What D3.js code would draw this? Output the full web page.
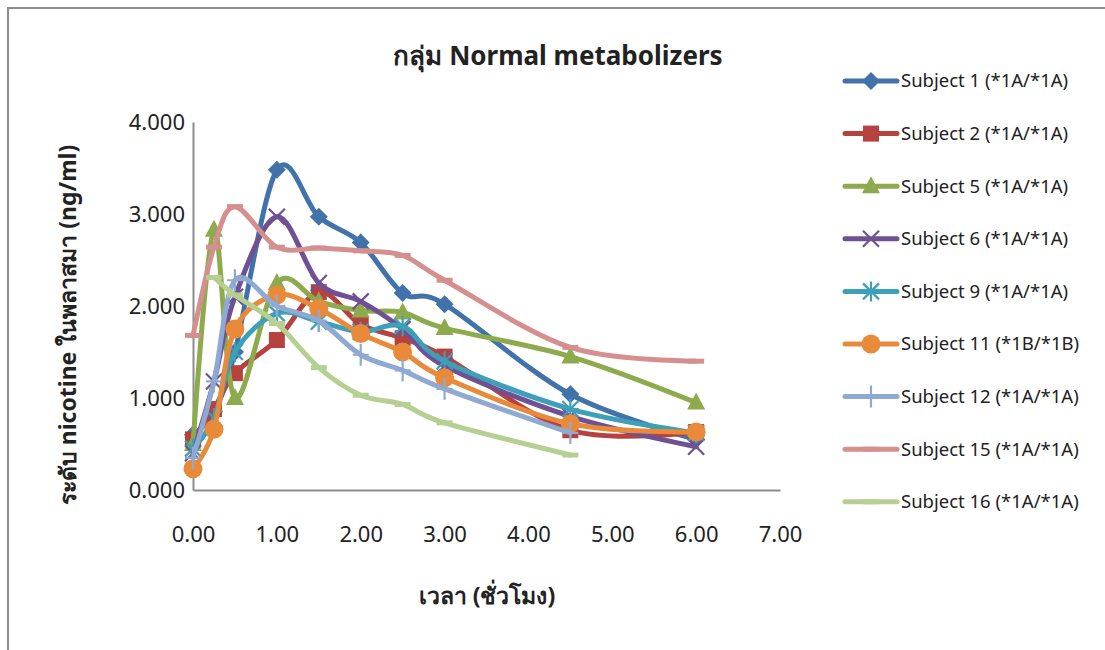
<!DOCTYPE html>
<html>
<head>
<meta charset="utf-8">
<script src="https://cdn.jsdelivr.net/npm/d3@7"></script>
<style>
  body { margin: 0; background: #fff; }
  svg text { font-family: "Noto Sans", "Open Sans", sans-serif; fill: #222; }
</style>
</head>
<body>
<div id="chart"></div>
<script>
// time points (hours)
const times = [0, 0.25, 0.5, 1, 1.5, 2, 2.5, 3, 4.5, 6];

const subjectNames = [
  'Subject 1 (*1A/*1A)', 'Subject 2 (*1A/*1A)', 'Subject 5 (*1A/*1A)',
  'Subject 6 (*1A/*1A)', 'Subject 9 (*1A/*1A)', 'Subject 11 (*1B/*1B)',
  'Subject 12 (*1A/*1A)', 'Subject 15 (*1A/*1A)', 'Subject 16 (*1A/*1A)'
];

// plasma nicotine (ng/ml), null = no sample
const s1  = [0.60, 0.85, 1.50, 3.48, 2.97, 2.69, 2.14, 2.02, 1.04, 0.55];
const s2  = [0.55, 0.88, 1.27, 1.63, 2.15, 1.80, 1.65, 1.45, 0.65, 0.63];
const s5  = [0.50, 2.83, 1.00, 2.25, 2.05, 1.95, 1.93, 1.76, 1.45, 0.95];
const s6  = [0.40, 1.18, 2.10, 2.97, 2.25, 2.05, 1.75, 1.35, 0.80, 0.47];
const s9  = [0.45, 0.78, 1.50, 1.92, 1.83, 1.72, 1.78, 1.40, 0.88, 0.62];
const s11 = [0.23, 0.66, 1.75, 2.12, 1.97, 1.70, 1.50, 1.22, 0.72, 0.63];
const s12 = [0.35, 1.18, 2.28, 2.00, 1.84, 1.47, 1.30, 1.10, 0.62, null];
const s15 = [1.68, 2.64, 3.08, 2.64, 2.63, 2.60, 2.55, 2.28, 1.55, 1.40];
const s16 = [null, 2.31, 2.12, 1.81, 1.33, 1.03, 0.93, 0.73, 0.38, null];

const seriesValues = [s1, s2, s5, s6, s9, s11, s12, s15, s16];
const colors = ['#4272aa', '#b5423f', '#8dab4c', '#6f5193', '#3d9fb8', '#e98a3a', '#8eaad3', '#d48f8e', '#b6cf92'];
const markers = ['diamond', 'square', 'triangle', 'x', 'asterisk', 'circle', 'plus', 'dash', 'dash'];

const yTicks = [0, 1, 2, 3, 4];
const xTicks = [0, 1, 2, 3, 4, 5, 6, 7];

const W = 1105, H = 650;
const svg = d3.select('#chart').append('svg').attr('width', W).attr('height', H);

// outer chart frame (only top and left edges are in view)
svg.append('path').attr('d', 'M8,650 V8 H1105')
  .attr('fill', 'none').attr('stroke', '#8c8c8c').attr('stroke-width', 2);

const x = d3.scaleLinear().domain([0, 7]).range([193, 780]);
const y = d3.scaleLinear().domain([0, 4]).range([490, 122]);

// axes
const gx = svg.append('g').attr('transform', `translate(0,${y(0)})`)
  .call(d3.axisBottom(x).tickValues(xTicks).tickSize(0).tickPadding(36).tickFormat(d3.format('.2f')));
const gy = svg.append('g').attr('transform', `translate(${x(0)},0)`)
  .call(d3.axisLeft(y).tickValues(yTicks).tickSize(0).tickPadding(8).tickFormat(d3.format('.3f')));
[gx, gy].forEach(g => {
  g.select('.domain').attr('stroke', '#8c8c8c').attr('stroke-width', 2);
  g.selectAll('text').attr('font-size', 22).attr('fill', '#222').style('font-family', '"Noto Sans", sans-serif');
});
gy.selectAll('text').attr('dy', '0.35em');

// titles
svg.append('text').attr('x', 558).attr('y', 65).attr('text-anchor', 'middle')
  .attr('font-size', 26).attr('font-weight', 'bold').text('กลุ่ม Normal metabolizers');
svg.append('text').attr('x', 487).attr('y', 604).attr('text-anchor', 'middle')
  .attr('font-size', 23).attr('font-weight', 'bold').text('เวลา (ชั่วโมง)');
svg.append('text').attr('transform', 'translate(76,325) rotate(-90)').attr('text-anchor', 'middle')
  .attr('font-size', 23).attr('font-weight', 'bold').text('ระดับ nicotine ในพลาสมา (ng/ml)');

const line = d3.line()
  .defined(d => d.v != null)
  .x(d => x(d.t)).y(d => y(d.v))
  .curve(d3.curveCatmullRom.alpha(0));

function drawMarker(g, type, color) {
  switch (type) {
    case 'diamond':
      g.append('path').attr('d', 'M0,-9 L9,0 L0,9 L-9,0 Z').attr('fill', color); break;
    case 'square':
      g.append('rect').attr('x', -8).attr('y', -8).attr('width', 16).attr('height', 16).attr('fill', color); break;
    case 'triangle':
      g.append('path').attr('d', 'M0,-10 L9,7 L-9,7 Z').attr('fill', color); break;
    case 'circle':
      g.append('circle').attr('r', 9.5).attr('fill', color); break;
    case 'x':
      g.append('path').attr('d', 'M-8,-8 L8,8 M-8,8 L8,-8').attr('stroke', color).attr('stroke-width', 2.2); break;
    case 'asterisk':
      g.append('path').attr('d', 'M-8,-8 L8,8 M-8,8 L8,-8 M0,-10 V10').attr('stroke', color).attr('stroke-width', 2.2); break;
    case 'plus':
      g.append('path').attr('d', 'M0,-11 V11 M-8,0 H8').attr('stroke', color).attr('stroke-width', 2.2); break;
    case 'dash':
      g.append('rect').attr('x', -8).attr('y', -2.5).attr('width', 16).attr('height', 5).attr('fill', color); break;
  }
}

const plot = svg.append('g');
seriesValues.forEach((vals, i) => {
  const pts = times.map((t, k) => ({ t, v: vals[k] }));
  const g = plot.append('g');
  g.append('path').attr('d', line(pts))
    .attr('fill', 'none').attr('stroke', colors[i]).attr('stroke-width', 5)
    .attr('stroke-linecap', 'round').attr('stroke-linejoin', 'round');
  g.selectAll('g.m').data(pts.filter(d => d.v != null)).enter().append('g')
    .attr('class', 'm').attr('transform', d => `translate(${x(d.t)},${y(d.v)})`)
    .each(function () { drawMarker(d3.select(this), markers[i], colors[i]); });
});

// legend
const legend = svg.append('g');
subjectNames.forEach((name, i) => {
  const ly = 81 + i * 52.6;
  const g = legend.append('g').attr('transform', `translate(0,${ly})`);
  g.append('line').attr('x1', 845).attr('x2', 897).attr('y1', 0).attr('y2', 0)
    .attr('stroke', colors[i]).attr('stroke-width', 5).attr('stroke-linecap', 'round');
  const m = g.append('g').attr('transform', 'translate(871,0)');
  drawMarker(m, markers[i], colors[i]);
  g.append('text').attr('x', 901).attr('y', 0).attr('dy', '0.35em')
    .attr('font-size', 18.5).text(name);
});
</script>
</body>
</html>
